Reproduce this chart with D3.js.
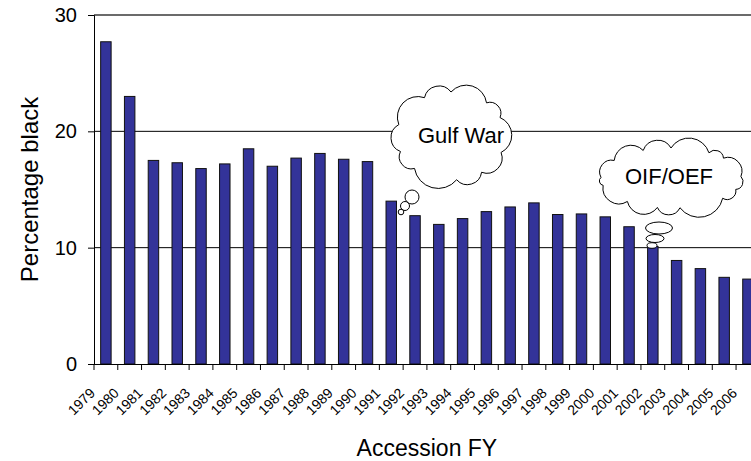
<!DOCTYPE html>
<html>
<head>
<meta charset="utf-8">
<script src="https://cdn.jsdelivr.net/npm/d3@7"></script>
<style>
  body { margin: 0; background: #fff; }
  text { font-family: "Liberation Sans", Arial, sans-serif; }
</style>
</head>
<body>
<div id="chart"></div>
<script>
// data
var years = ["1979", "1980", "1981", "1982", "1983", "1984", "1985", "1986", "1987", "1988",
  "1989", "1990", "1991", "1992", "1993", "1994", "1995", "1996", "1997", "1998",
  "1999", "2000", "2001", "2002", "2003", "2004", "2005", "2006"];
var pctBlack = [27.7, 23.0, 17.5, 17.3, 16.8, 17.2, 18.5, 17.0, 17.7, 18.1,
  17.6, 17.4, 14.0, 12.75, 12.0, 12.5, 13.1, 13.5, 13.85, 12.85,
  12.9, 12.65, 11.8, 10.1, 8.9, 8.2, 7.45, 7.3];
var yTicks = [0, 10, 20, 30];
var notes = ["Gulf War", "OIF/OEF"];

var svgWidth = 751;
var svgHeight = 461;
var margin = { top: 15, left: 94, bottom: 97 };
var step = 23.78;
var height = svgHeight - margin.top - margin.bottom;

var svg = d3.select("#chart")
  .append("svg")
  .attr("width", svgWidth)
  .attr("height", svgHeight);

var x = d3.scaleBand()
  .domain(years)
  .range([margin.left, margin.left + step * years.length])
  .padding(0);

var y = d3.scaleLinear()
  .domain([0, 30])
  .range([margin.top + height, margin.top]);

// gridlines
svg.append("g")
  .selectAll("line")
  .data(yTicks.filter(d => d > 0))
  .enter()
  .append("line")
  .attr("x1", margin.left)
  .attr("x2", x.range()[1])
  .attr("y1", d => y(d))
  .attr("y2", d => y(d))
  .attr("stroke", d => d === 30 ? "#3a3a3a" : "#000")
  .attr("stroke-width", d => d === 30 ? 1.5 : 1);

// bars
var barW = x.bandwidth() * 0.44;
svg.append("g")
  .selectAll("rect")
  .data(years)
  .enter()
  .append("rect")
  .attr("x", d => x(d) + (x.bandwidth() - barW) / 2)
  .attr("y", (d, i) => y(pctBlack[i]))
  .attr("width", barW)
  .attr("height", (d, i) => y(0) - y(pctBlack[i]))
  .attr("fill", "#333399")
  .attr("stroke", "#111")
  .attr("stroke-width", 1);

// y axis
var leftAxis = d3.axisLeft(y).tickValues(yTicks).tickSize(6).tickPadding(11);
var gy = svg.append("g")
  .attr("transform", `translate(${margin.left},0)`)
  .call(leftAxis);
gy.select(".domain").attr("stroke", "#000");
gy.selectAll("text").style("font-size", "20px").attr("fill", "#000");

// x axis: line + ticks at band edges
var bottomAxis = d3.axisBottom(x).tickSize(0).tickPadding(0);
var gx = svg.append("g")
  .attr("transform", `translate(0,${y(0)})`)
  .call(bottomAxis);
gx.select(".domain").attr("stroke", "#000").attr("d", `M${margin.left - 6},0.5H${x.range()[1]}`);
gx.selectAll(".tick text")
  .style("font-size", "14px")
  .attr("fill", "#000")
  .attr("text-anchor", "end")
  .attr("y", 0)
  .attr("dy", 0)
  .attr("transform", "translate(-10,30) rotate(-45)");

gx.append("g")
  .selectAll("line")
  .data(years.concat(["end"]))
  .enter()
  .append("line")
  .attr("x1", d => d === "end" ? x.range()[1] : x(d))
  .attr("x2", d => d === "end" ? x.range()[1] : x(d))
  .attr("y1", 0)
  .attr("y2", 6)
  .attr("stroke", "#000");

// axis titles
svg.append("text")
  .attr("transform", "rotate(-90)")
  .attr("x", -(margin.top + height / 2))
  .attr("y", 38)
  .attr("text-anchor", "middle")
  .style("font-size", "24px")
  .text("Percentage black");

svg.append("text")
  .attr("x", (x.range()[0] + x.range()[1]) / 2)
  .attr("y", 456)
  .attr("text-anchor", "middle")
  .style("font-size", "23px")
  .text("Accession FY");

// thought clouds
function cloudPath(cx, cy, rx, ry, n) {
  var pts = d3.range(n + 1).map(function(i) {
    var a = -Math.PI / 2 + 2 * Math.PI * (i % n) / n + 0.12 * Math.sin((i % n) * 2.3);
    return [cx + rx * Math.cos(a), cy + ry * Math.sin(a)];
  });
  var s = "M" + pts[0][0] + "," + pts[0][1];
  for (var i = 1; i < pts.length; i++) {
    var dx = pts[i][0] - pts[i - 1][0], dy = pts[i][1] - pts[i - 1][1];
    var r = Math.sqrt(dx * dx + dy * dy) * 0.55;
    s += "A" + r + "," + r + " 0 0 1 " + pts[i][0] + "," + pts[i][1];
  }
  return s + "Z";
}

var clouds = svg.append("g").attr("fill", "#fff").attr("stroke", "#000").attr("stroke-width", 1);

// Gulf War cloud, tail pointing at the 1991 bar
clouds.append("path").attr("d", cloudPath(451, 136, 54, 44, 10));
clouds.append("circle").attr("cx", 412).attr("cy", 197).attr("r", 7);
clouds.append("circle").attr("cx", 405).attr("cy", 206).attr("r", 4.5);
clouds.append("circle").attr("cx", 401).attr("cy", 212).attr("r", 2.8);
svg.append("text")
  .attr("x", 461).attr("y", 143)
  .attr("text-anchor", "middle")
  .style("font-size", "22px")
  .text(notes[0]);

// OIF/OEF cloud, tail pointing at the 2002 bar
clouds.append("path").attr("d", cloudPath(671, 178, 70, 30, 13));
clouds.append("ellipse").attr("cx", 659).attr("cy", 228).attr("rx", 13.5).attr("ry", 6);
clouds.append("ellipse").attr("cx", 655).attr("cy", 238.5).attr("rx", 9).attr("ry", 4);
clouds.append("ellipse").attr("cx", 652).attr("cy", 245.5).attr("rx", 5).attr("ry", 2.8);
svg.append("text")
  .attr("x", 669).attr("y", 184)
  .attr("text-anchor", "middle")
  .style("font-size", "22px")
  .text(notes[1]);
</script>
</body>
</html>
